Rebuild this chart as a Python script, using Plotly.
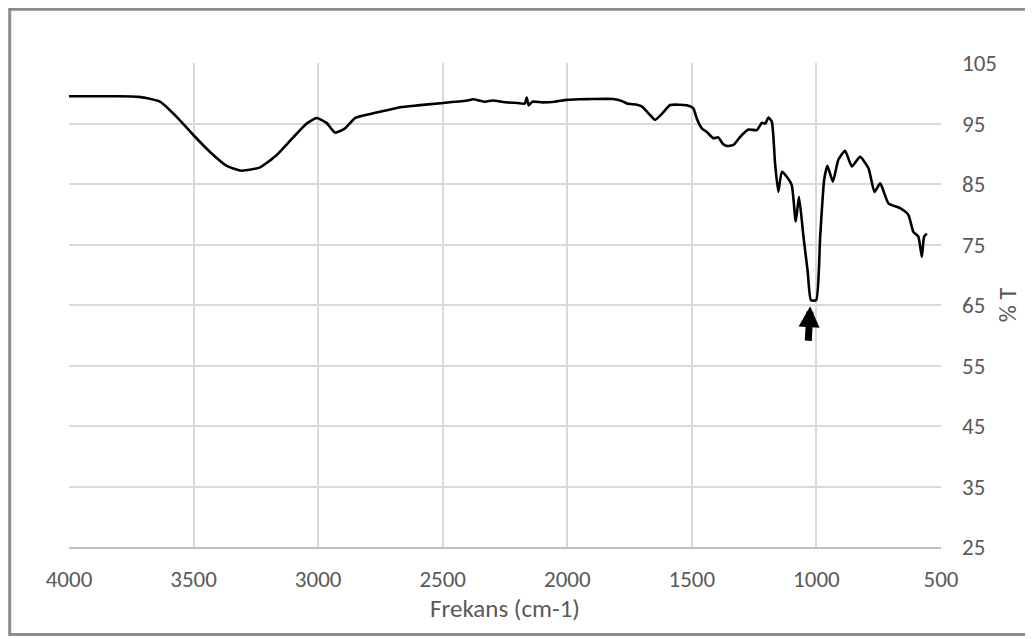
import plotly.graph_objects as go

wavenumber = [4000, 3900, 3800, 3720, 3690, 3635, 3568, 3501, 3434, 3367, 3307, 3233, 3166, 3100,
              3046, 3006, 2966, 2932, 2892, 2852, 2765, 2671, 2600, 2497, 2400, 2378, 2330, 2300,
              2250, 2200, 2170, 2163, 2155, 2140, 2100, 2050, 2002, 1950, 1900, 1816, 1780, 1761,
              1720, 1700, 1670, 1648, 1620, 1587, 1550, 1520, 1494, 1480, 1460, 1440, 1413, 1394,
              1375, 1360, 1333, 1306, 1273, 1239, 1219, 1205, 1193, 1179, 1166, 1153, 1139, 1119,
              1099, 1083, 1070, 1052, 1035, 1022, 1001, 985, 969, 956, 934, 912, 885, 858, 825,
              791, 767, 744, 711, 664, 631, 611, 591, 577, 568, 557]
transmittance = [99.5, 99.5, 99.5, 99.4, 99.2, 98.6, 96.1, 93.1, 90.3, 88.0, 87.2, 87.75, 89.8, 92.7,
                 95.0, 95.9, 95.1, 93.5, 94.2, 95.9, 96.8, 97.7, 98.0, 98.4, 98.8, 99.0, 98.6, 98.8,
                 98.5, 98.4, 98.3, 99.3, 98.0, 98.6, 98.5, 98.6, 98.9, 99.0, 99.05, 99.05, 98.7, 98.3,
                 98.1, 97.8, 96.5, 95.6, 96.6, 98.05, 98.1, 98.0, 97.5, 95.8, 94.2, 93.6, 92.55, 92.7,
                 91.6, 91.3, 91.45, 92.8, 94.0, 93.9, 95.1, 95.0, 96.0, 95.3, 88.4, 83.7, 87.0, 86.2,
                 84.8, 78.8, 82.9, 76.3, 70.5, 65.8, 65.8, 76.3, 85.7, 88.0, 85.4, 89.0, 90.5, 87.9, 89.5,
                 87.6, 83.7, 85.1, 81.8, 81.0, 79.9, 77.1, 76.3, 73.0, 76.3, 76.8]

x_ticks = [4000, 3500, 3000, 2500, 2000, 1500, 1000, 500]
y_ticks = [25, 35, 45, 55, 65, 75, 85, 95, 105]

FONT = "Carlito, Liberation Sans, Arial, sans-serif"
TXT = "#595959"

fig = go.Figure()
fig.add_trace(go.Scatter(x=wavenumber, y=transmittance, mode="lines",
                         line=dict(color="black", width=2.6, shape="spline", smoothing=0.5),
                         showlegend=False, hoverinfo="skip"))

fig.update_layout(
    width=1025, height=631,
    margin=dict(l=61, r=92, t=55, b=92, autoexpand=False),
    paper_bgcolor="white", plot_bgcolor="white",
    font=dict(family=FONT, size=23, color=TXT),
    xaxis=dict(range=[4000, 500], tickvals=x_ticks, showgrid=True, gridcolor="#d9d9d9",
               gridwidth=1.5, zeroline=False, showline=True, linecolor="#bfbfbf", linewidth=1.5,
               ticks="", ticklabelstandoff=11, tickfont=dict(size=23),
               title=dict(text="Frekans (cm-1)", font=dict(size=25, family=FONT, color=TXT), standoff=4)),
    yaxis=dict(range=[25, 105], tickvals=y_ticks, side="right", showgrid=True, gridcolor="#d9d9d9",
               gridwidth=1.5, zeroline=False, showline=False, ticks="", ticklabelstandoff=20,
               tickfont=dict(size=23),
               title=dict(text="% T", font=dict(size=24, family=FONT, color=TXT), standoff=3)),
)

fig.add_annotation(x=1025, y=64.8, xref="x", yref="y", ax=-2, ay=36, axref="pixel", ayref="pixel",
                   text="", showarrow=True, arrowhead=2, arrowwidth=7, arrowsize=0.6, arrowcolor="black")

# outer frame
fig.add_shape(type="rect", xref="paper", yref="paper", x0=-0.068, x1=1.101, y0=-0.181, y1=1.111,
              line=dict(color="#8c8c8c", width=3), fillcolor="rgba(0,0,0,0)", layer="below")

fig.write_html("out.html")
